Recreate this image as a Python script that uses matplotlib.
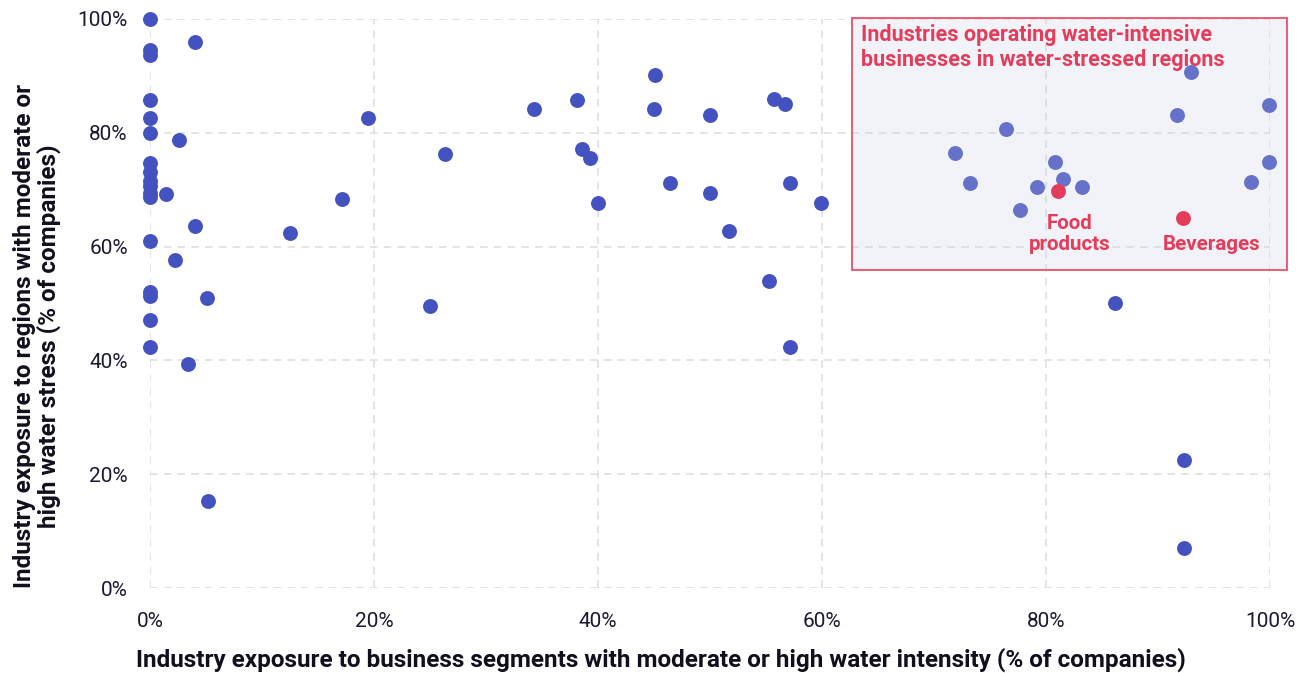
import matplotlib.pyplot as plt
from matplotlib.patches import Rectangle
from matplotlib.ticker import PercentFormatter

plt.rcParams['font.family'] = ['Roboto', 'DejaVu Sans']

# industry points (x: water intensity exposure %, y: water stress exposure %)
x_vals = [0, 4.0, 0, 0, 0, 0, 0, 2.6, 19.5, 26.3,
          0, 0, 0, 0, 0, 0, 1.4, 17.1, 4.0, 12.5,
          0, 2.2, 0, 0, 5.1, 25.0, 0, 0, 3.4, 5.2,
          34.3, 38.1, 45.1, 45.0, 50.0, 55.7, 56.7, 38.6, 39.3, 40.0,
          46.4, 50.0, 57.1, 59.9, 51.7, 55.3, 57.1,
          92.9, 99.9, 91.7, 76.4, 71.9, 80.8, 99.9, 81.5, 73.2, 79.2,
          83.2, 98.3, 77.7, 86.2, 92.3, 92.3]
y_vals = [100, 96.0, 94.6, 93.6, 85.7, 82.6, 80.0, 78.8, 82.6, 76.3,
          74.7, 73.1, 71.6, 70.6, 69.4, 68.8, 69.3, 68.3, 63.7, 62.3,
          60.9, 57.6, 52.0, 51.3, 50.9, 49.6, 47.1, 42.4, 39.4, 15.3,
          84.2, 85.7, 90.2, 84.2, 83.2, 85.9, 85.0, 77.2, 75.5, 67.7,
          71.2, 69.5, 71.2, 67.7, 62.7, 54.0, 42.4,
          90.7, 84.8, 83.2, 80.7, 76.5, 74.8, 74.8, 71.9, 71.1, 70.5,
          70.5, 71.4, 66.4, 50.0, 22.5, 7.0]

# highlighted industries
hl_names = ["Food\nproducts", "Beverages"]
hl_x = [81.1, 92.2]
hl_y = [69.8, 65.0]
hl_label_x = [82.1, 94.8]
hl_label_y = [62.2, 60.4]

box_title = "Industries operating water-intensive\nbusinesses in water-stressed regions"

blue = '#4452bf'
red = '#e43d5b'

fig = plt.figure(figsize=(13.01, 6.73), dpi=100)
ax = fig.add_axes([0.1153, 0.1263, 0.8609, 0.8455])

ax.scatter(x_vals, y_vals, s=115, color=blue, linewidths=0, zorder=3, clip_on=False)

# highlight box drawn over the blue points
box = Rectangle((62.7, 55.8), 101.5 - 62.7, 100.2 - 55.8, facecolor=(0.80, 0.82, 0.92, 0.25),
                edgecolor='#e8506a', linewidth=1.3, zorder=4, clip_on=False)
ax.add_patch(box)
ax.text(63.5, 99.2, box_title, color=red, fontsize=15.5, fontweight='bold',
        va='top', ha='left', linespacing=1.2, zorder=6)

ax.scatter(hl_x, hl_y, s=115, color=red, linewidths=0, zorder=5, clip_on=False)
for name, lx, ly in zip(hl_names, hl_label_x, hl_label_y):
    ax.text(lx, ly, name, color=red, fontsize=14.8, fontweight='bold',
            ha='center', va='center', linespacing=1.15, zorder=6)

ax.set_xlim(0, 100)
ax.set_ylim(0, 100)
ax.set_xticks([0, 20, 40, 60, 80, 100])
ax.set_yticks([0, 20, 40, 60, 80, 100])
ax.xaxis.set_major_formatter(PercentFormatter(decimals=0))
ax.yaxis.set_major_formatter(PercentFormatter(decimals=0))
ax.tick_params(length=0, labelsize=15, colors='#1a1a2e')
ax.tick_params(axis='x', pad=17)
ax.tick_params(axis='y', pad=16)
for s in ax.spines.values():
    s.set_visible(False)
ax.grid(True, color='#dddddd', linestyle=(0, (5, 4)), linewidth=1.1, zorder=0)
ax.set_axisbelow(True)

ax.set_xlabel("Industry exposure to business segments with moderate or high water intensity (% of companies)",
              fontsize=17.5, fontweight='bold', color='#0f0f1e', va='center')
ax.xaxis.set_label_coords(0.456, -0.126)
ax.set_ylabel("Industry exposure to regions with moderate or\nhigh water stress (% of companies)",
              fontsize=17.5, fontweight='bold', color='#0f0f1e', va='center', linespacing=1.05)
ax.yaxis.set_label_coords(-0.101, 0.443)

fig.savefig('out.png', dpi=100)
